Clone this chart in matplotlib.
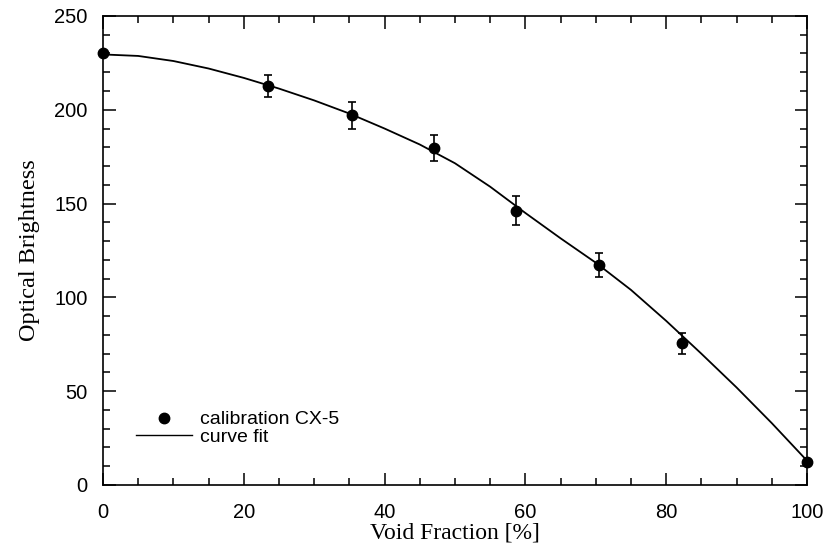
import matplotlib
matplotlib.use("Agg")
import matplotlib.pyplot as plt
from matplotlib.lines import Line2D
from matplotlib.ticker import MultipleLocator

# calibration points (void fraction %, brightness, error)
void_frac = [0, 23.5, 35.4, 47.0, 58.7, 70.4, 82.3, 100]
brightness = [230, 212.5, 197, 179.7, 146.3, 117.3, 75.5, 12.5]
bright_err = [0, 5.9, 7.2, 7.0, 7.6, 6.6, 5.5, 0]

# fitted curve
fit_x = [0, 5, 10, 15, 20, 25, 30, 35, 40, 45, 50, 55, 60, 65, 70, 75, 80, 85, 90, 95, 100]
fit_y = [229.5, 228.7, 226.0, 222.0, 217.0, 211.3, 205, 198, 190, 181.5, 171.5, 159,
         145, 131.5, 118.5, 104, 87.5, 70, 52, 33, 13]

fig = plt.figure(figsize=(8.25, 5.49), dpi=100)
ax = fig.add_axes([0.1248, 0.1166, 0.8533, 0.8543])

ax.plot(fit_x, fit_y, color="black", lw=1.3)
ax.errorbar(void_frac, brightness, yerr=bright_err, fmt="o", color="black",
            ms=7.5, capsize=3.2, elinewidth=1.2, capthick=1.2, clip_on=False, zorder=3)

ax.set_xlim(0, 100)
ax.set_ylim(0, 250)
ax.xaxis.set_major_locator(MultipleLocator(20))
ax.xaxis.set_minor_locator(MultipleLocator(5))
ax.yaxis.set_major_locator(MultipleLocator(50))
ax.yaxis.set_minor_locator(MultipleLocator(10))
ax.tick_params(which="both", direction="in", top=True, right=True, width=1.1)
ax.tick_params(which="major", length=9, labelsize=14.5)
ax.tick_params(axis="x", which="major", pad=13)
ax.tick_params(axis="y", which="major", pad=11)
ax.tick_params(which="minor", length=5)
for lbl in ax.get_xticklabels() + ax.get_yticklabels():
    lbl.set_family("Liberation Sans")
for s in ax.spines.values():
    s.set_linewidth(1.2)

ax.set_xlabel("Void Fraction [%]", family="Liberation Serif", fontsize=17, labelpad=0)
ax.set_ylabel("Optical Brightness", family="Liberation Serif", fontsize=17.5, labelpad=10)

handles = [Line2D([], [], ls="none", marker="o", color="black", ms=7.5),
           Line2D([], [], color="black", lw=1.0)]
ax.legend(handles, ["calibration CX-5", "curve fit"], loc="upper left",
          bbox_to_anchor=(0.047, 0.158), frameon=False, borderpad=0, borderaxespad=0,
          handlelength=2.9, handletextpad=0.4, labelspacing=0.0,
          prop={"family": "Liberation Sans", "size": 14})

fig.savefig("out.png", dpi=100)
